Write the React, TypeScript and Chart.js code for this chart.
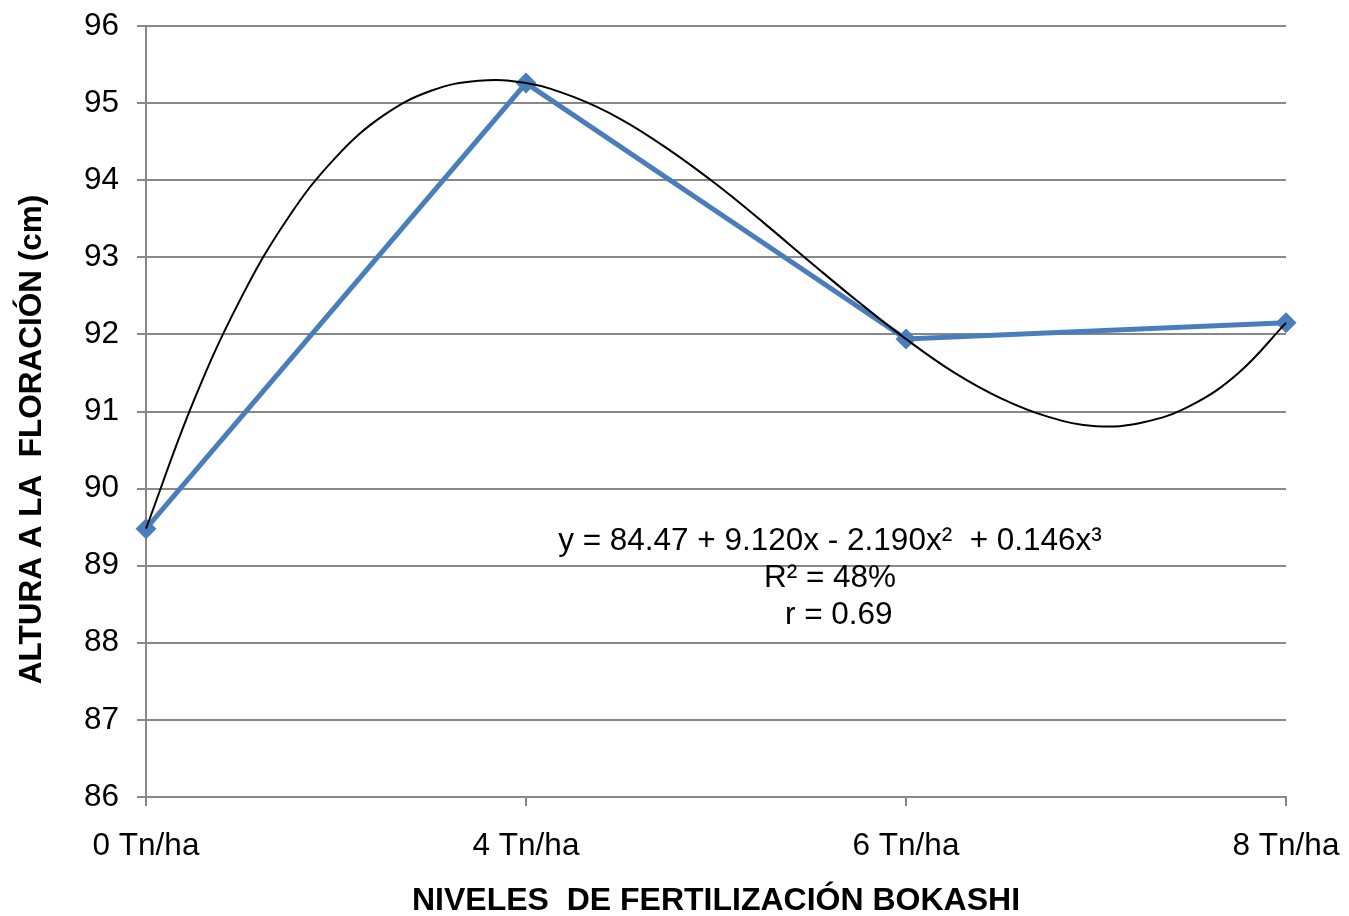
import React, { useEffect, useRef } from "react";
import { Chart, registerables } from "chart.js";

Chart.register(...registerables);

const categories = ["0 Tn/ha", "4 Tn/ha", "6 Tn/ha", "8 Tn/ha"];
const categoryPositions = [0, 1, 2, 3];
const alturaValues = [89.48, 95.26, 91.94, 92.15];

const trendPositions = [0, 0.125, 0.25, 0.375, 0.5, 0.625, 0.75, 0.875, 1, 1.125, 1.25, 1.375, 1.5, 1.625, 1.75, 1.875, 2, 2.125, 2.25, 2.375, 2.5, 2.625, 2.75, 2.875, 3];
const trendValues = [89.48, 91.13, 92.47, 93.52, 94.3, 94.84, 95.16, 95.29, 95.26, 95.08, 94.79, 94.4, 93.95, 93.45, 92.93, 92.42, 91.94, 91.51, 91.17, 90.93, 90.81, 90.86, 91.08, 91.5, 92.15];

const equationLines = ["y = 84.47 + 9.120x - 2.190x\u00B2  + 0.146x\u00B3", "R\u00B2 = 48%", "  r = 0.69"];

const yTitle = "ALTURA A LA  FLORACI\u00D3N (cm)";
const xTitle = "NIVELES  DE FERTILIZACI\u00D3N BOKASHI";

const FONT = "'Liberation Sans', Arial, sans-serif";

export default function App() {
  const ref = useRef<HTMLCanvasElement | null>(null);

  useEffect(() => {
    if (!ref.current) return;
    const annotation = {
      id: "equation",
      afterDatasetsDraw(chart: any) {
        const ctx = chart.ctx;
        const xs = chart.scales.x;
        const ys = chart.scales.y;
        ctx.save();
        ctx.font = `31.5px ${FONT}`;
        ctx.fillStyle = "#000";
        ctx.textAlign = "center";
        ctx.textBaseline = "middle";
        const cx = xs.getPixelForValue(1.8);
        const y0 = ys.getPixelForValue(89.31);
        equationLines.forEach((t, i) => ctx.fillText(t, cx, y0 + i * 37));
        ctx.restore();
      },
    };
    const yTitlePlugin = {
      id: "yTitle",
      afterDraw(chart: any) {
        const ctx = chart.ctx;
        ctx.save();
        ctx.font = `bold 31.5px ${FONT}`;
        ctx.fillStyle = "#000";
        ctx.textAlign = "center";
        ctx.textBaseline = "middle";
        ctx.translate(32, chart.chartArea.top + (chart.chartArea.bottom - chart.chartArea.top) / 2 + 28);
        ctx.rotate(-Math.PI / 2);
        ctx.fillText(yTitle, 0, 0);
        ctx.restore();
      },
    };

    const chart = new Chart(ref.current, {
      type: "line",
      data: {
        datasets: [
          {
            label: "trend",
            data: trendPositions.map((x, i) => ({ x, y: trendValues[i] })),
            borderColor: "#000",
            borderWidth: 2,
            pointRadius: 0,
            tension: 0.4,
            fill: false,
            order: 0,
            clip: false as any,
          },
          {
            label: "altura",
            data: categoryPositions.map((x, i) => ({ x, y: alturaValues[i] })),
            borderColor: "#4a7ebb",
            backgroundColor: "#4a7ebb",
            borderWidth: 5,
            pointStyle: "rectRot",
            pointRadius: 10.5,
            pointBorderWidth: 0,
            tension: 0,
            fill: false,
            order: 1,
            clip: false as any,
          },
        ],
      },
      options: {
        animation: false,
        responsive: true,
        maintainAspectRatio: false,
        layout: { autoPadding: false, padding: { left: 0, right: 63, top: 26, bottom: 0 } },
        plugins: { legend: { display: false }, tooltip: { enabled: false } },
        scales: {
          x: {
            type: "linear",
            min: 0,
            max: 3,
            ticks: {
              stepSize: 1,
              color: "#000",
              font: { family: FONT, size: 31.5 },
              padding: 21,
              maxRotation: 0,
              callback: (v: any) => categories[Number(v)] ?? "",
            },
            grid: { drawOnChartArea: false, drawTicks: true, tickLength: 9, color: "#888", lineWidth: 2 },
            border: { display: true, color: "#888", width: 2 },
            title: {
              display: true,
              text: xTitle,
              color: "#000",
              font: { family: FONT, size: 32, weight: "bold", lineHeight: 0.95 },
              padding: { top: 20, bottom: 0 },
            },
            afterFit: (s: any) => {
              s.height = 119;
              s.paddingLeft = 0;
              s.paddingRight = 0;
              s.paddingTop = 0;
              s.paddingBottom = 0;
            },
          },
          y: {
            min: 86,
            max: 96,
            ticks: { stepSize: 1, color: "#000", font: { family: FONT, size: 31.5 }, padding: 18 },
            grid: { color: "#888", lineWidth: 2, drawTicks: true, tickLength: 9 },
            border: { display: true, color: "#888", width: 2 },
            title: { display: false },
            afterFit: (s: any) => {
              s.width = 146;
              s.paddingLeft = 0;
              s.paddingRight = 0;
              s.paddingTop = 0;
              s.paddingBottom = 0;
            },
          },
        },
      },
      plugins: [annotation, yTitlePlugin],
    });
    return () => chart.destroy();
  }, []);

  return (
    <div style={{ position: "absolute", left: 0, top: 0, width: 1349, height: 916, background: "#fff" }}>
      <canvas ref={ref} />
    </div>
  );
}
